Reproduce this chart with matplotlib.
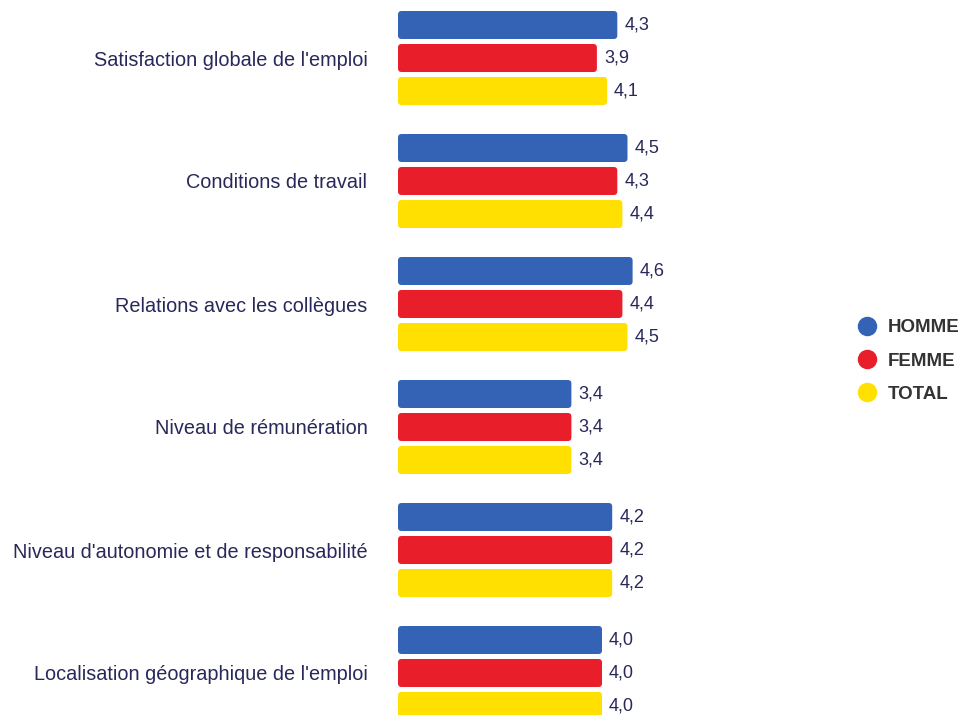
import numpy as np
import matplotlib.pyplot as plt
from matplotlib.patches import FancyBboxPatch
from matplotlib.lines import Line2D

plt.rcParams['font.family'] = ['Liberation Sans', 'DejaVu Sans']

categories = ["Satisfaction globale de l'emploi", "Conditions de travail",
              "Relations avec les collègues", "Niveau de rémunération",
              "Niveau d'autonomie et de responsabilité",
              "Localisation géographique de l'emploi"]
homme = [4.3, 4.5, 4.6, 3.4, 4.2, 4.0]
femme = [3.9, 4.3, 4.4, 3.4, 4.2, 4.0]
total = [4.1, 4.4, 4.5, 3.4, 4.2, 4.0]
series = ['HOMME', 'FEMME', 'TOTAL']
colors = ['#3462b4', '#e81e2a', '#ffe000']

W, H = 965, 715
fig = plt.figure(figsize=(W / 100, H / 100), dpi=100)
ax = fig.add_axes([398 / W, 0, 510 / W, 1])
ax.set_xlim(0, 10)
ax.set_ylim((H - 58) / 123, -58 / 123)

y = np.arange(len(categories))
off = 33 / 123
bh = 28 / 123
txt = '#28285a'
for k, (vals, c) in enumerate(zip([homme, femme, total], colors)):
    bars = ax.barh(y + (k - 1) * off, vals, height=bh, color=c)
    for b, v in zip(bars, vals):
        b.set_visible(False)
        p = FancyBboxPatch((b.get_x(), b.get_y()), b.get_width(), b.get_height(),
                           boxstyle='round,pad=0,rounding_size=0.07',
                           mutation_aspect=51 / 123, fc=c, ec='none')
        ax.add_patch(p)
        ax.annotate(f'{v:.1f}'.replace('.', ','), (v, b.get_y() + bh / 2),
                    xytext=(5, 0), textcoords='offset points', va='center',
                    ha='left', fontsize=13, color=txt)

ax.set_yticks(y)
ax.set_yticklabels(categories, fontsize=14.3, color=txt)
ax.tick_params(axis='y', length=0, pad=22)
ax.set_xticks([])
for s in ax.spines.values():
    s.set_visible(False)

handles = [Line2D([], [], ls='none', marker='o', ms=13, mfc=c, mec=c) for c in colors]
leg = fig.legend(handles, series, loc='center left', bbox_to_anchor=(839 / W, 1 - 361 / H),
                 frameon=False, handletextpad=0.5, labelspacing=0.85, handlelength=1.2,
                 prop={'weight': 'bold', 'size': 13.5})
for t in leg.get_texts():
    t.set_color('#333333')

fig.savefig('out.png', dpi=100, facecolor='white')
